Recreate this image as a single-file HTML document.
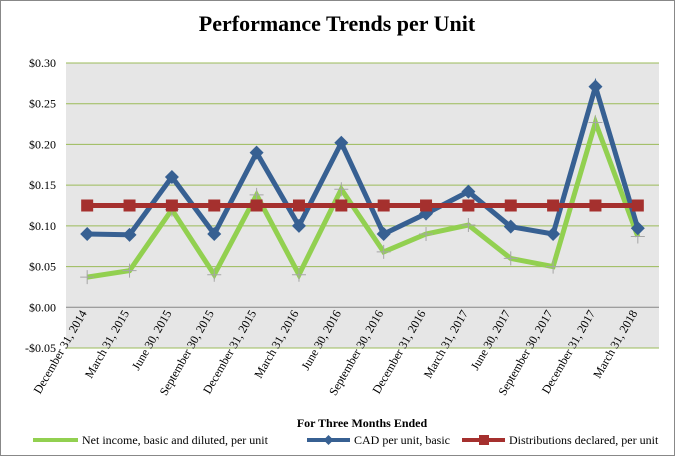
<!DOCTYPE html>
<html><head><meta charset="utf-8"><style>
body{margin:0;background:#fff;}
svg{display:block;font-family:"Liberation Serif",serif;}
</style></head><body>
<svg id="chart" width="675" height="456">
<rect x="0.5" y="0.5" width="674" height="455" fill="#fff" stroke="#888"/>
<text x="337" y="31" text-anchor="middle" font-size="22" font-weight="bold">Performance Trends per Unit</text>
<rect x="66" y="63" width="593" height="285" fill="#e6e6e6"/>
<g id="grid"></g><g id="series"></g><g id="labels"></g>
<text x="362" y="427" text-anchor="middle" font-size="12" font-weight="bold">For Three Months  Ended</text>
<g font-size="12">
<g><line x1="33" y1="440" x2="78" y2="440" stroke="#92d050" stroke-width="4"/><text x="82" y="444">Net income, basic and diluted, per unit</text></g>
<g><line x1="307" y1="440" x2="350" y2="440" stroke="#376092" stroke-width="4"/><path d="M328.5 435 L333.5 440 L328.5 445 L323.5 440Z" fill="#376092"/><text x="354" y="444">CAD per unit, basic</text></g>
<g><line x1="462" y1="440" x2="505" y2="440" stroke="#a5302e" stroke-width="4"/><rect x="479" y="435" width="10" height="10" fill="#a5302e"/><text x="509" y="444">Distributions declared, per unit</text></g>
</g>
</svg>
<script>
const categories=["December 31, 2014","March 31, 2015","June 30, 2015","September 30, 2015","December 31, 2015","March 31, 2016","June 30, 2016","September 30, 2016","December 31, 2016","March 31, 2017","June 30, 2017","September 30, 2017","December 31, 2017","March 31, 2018"];
const netIncome=[0.037,0.045,0.12,0.04,0.138,0.04,0.145,0.068,0.09,0.101,0.06,0.05,0.227,0.087];
const cad=[0.09,0.089,0.16,0.09,0.19,0.10,0.202,0.09,0.115,0.142,0.099,0.09,0.271,0.097];
const distributions=[0.125,0.125,0.125,0.125,0.125,0.125,0.125,0.125,0.125,0.125,0.125,0.125,0.125,0.125];
const yTicks=[-0.05,0,0.05,0.10,0.15,0.20,0.25,0.30];
const NS="http://www.w3.org/2000/svg";
const L=66,R=659,T=63,B=348,ymin=-0.05,ymax=0.30;
const xs=i=>L+(R-L)/categories.length*(i+0.5);
const ys=v=>B-(v-ymin)/(ymax-ymin)*(B-T);
function mk(tag,attrs,parent){const e=document.createElementNS(NS,tag);for(const k in attrs)e.setAttribute(k,attrs[k]);parent.appendChild(e);return e;}
const grid=document.getElementById('grid'),ser=document.getElementById('series'),lab=document.getElementById('labels');
yTicks.forEach(v=>{
  const y=ys(v);
  const ln=mk('line',{x1:L,x2:R,y1:y,y2:y,stroke:v===0?'#868686':'#9bbb59','stroke-width':1},grid);
  
  
  const t=mk('text',{x:L-10,y:y+4,'text-anchor':'end','font-size':12},lab);
  t.textContent=(v<0?'-':'')+'$'+Math.abs(v).toFixed(2);
  
  
});
categories.forEach((c,i)=>{
  const x=xs(i);
  const t=mk('text',{x:x,y:313,'text-anchor':'end','font-size':12,transform:`rotate(-60 ${x} 313)`},lab);
  t.textContent=c;
  
  
});
function line(data,color,name){
  const p=mk('polyline',{points:data.map((v,i)=>xs(i)+','+ys(v)).join(' '),fill:'none',stroke:color,'stroke-width':5,'stroke-linejoin':'miter'},ser);
  
  
}
line(netIncome,'#92d050','net-income');
netIncome.forEach((v,i)=>{const x=xs(i),y=ys(v);
  const m=mk('path',{d:`M${x-7} ${y}H${x+7}M${x} ${y-7}V${y+7}`,stroke:'#a6a6a6','stroke-width':1},ser);
  
  });
line(cad,'#376092','cad');
cad.forEach((v,i)=>{const x=xs(i),y=ys(v);
  const m=mk('path',{d:`M${x} ${y-7}L${x+7} ${y}L${x} ${y+7}L${x-7} ${y}Z`,fill:'#376092'},ser);
  
  });
line(distributions,'#a5302e','distributions');
distributions.forEach((v,i)=>{const x=xs(i),y=ys(v);
  const m=mk('rect',{x:x-6,y:y-6,width:12,height:12,fill:'#a5302e'},ser);
  
  });
</script>
</body></html>
